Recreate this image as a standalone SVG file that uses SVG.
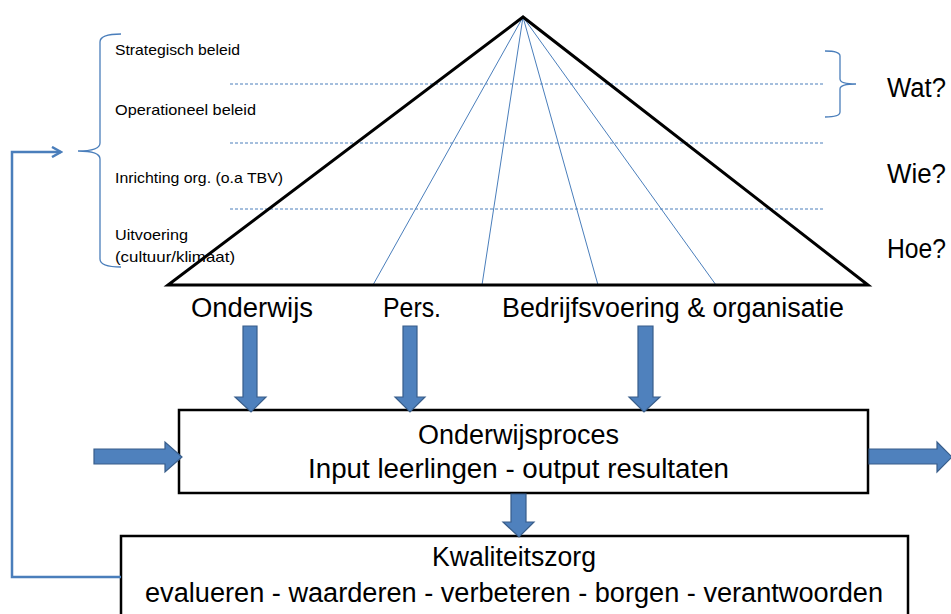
<svg xmlns="http://www.w3.org/2000/svg" width="951" height="614" viewBox="0 0 951 614">
<defs>
<style>
text{font-family:"Liberation Sans",Arial,sans-serif;fill:#000}
.sm{font-size:14.5px}
.lg{font-size:27px}
.blue{stroke:#4A7EBB;fill:none}
.dash{stroke:#4A7EBB;stroke-width:1;stroke-dasharray:3 2;fill:none}
.barrow{fill:#4F81BD;stroke:#385D8A;stroke-width:1.2}
.box{fill:#fff;stroke:#000;stroke-width:2.5}
</style>
<marker id="open" viewBox="0 0 12 12" refX="10" refY="6" markerWidth="12" markerHeight="12" markerUnits="userSpaceOnUse" orient="auto">
<path d="M1,1 L10,6 L1,11" fill="none" stroke="#4A7EBB" stroke-width="2.5"/>
</marker>
</defs>
<rect width="951" height="614" fill="#fff"/>

<g id="levels">
<line class="dash" x1="230" y1="84" x2="824" y2="84"/>
<line class="dash" x1="230" y1="143" x2="824" y2="143"/>
<line class="dash" x1="230" y1="209" x2="824" y2="209"/>
</g>

<g id="pyramid">
<g class="blue" stroke-width="1">
<line x1="523" y1="17" x2="373" y2="285"/>
<line x1="523" y1="17" x2="482" y2="285"/>
<line x1="523" y1="17" x2="598" y2="285"/>
<line x1="523" y1="17" x2="716" y2="285"/>
</g>
<path d="M523,17 L168,285 L868,285 Z" fill="none" stroke="#000" stroke-width="3" stroke-linejoin="miter"/>
</g>

<g id="left-brace">
<path class="blue" stroke-width="1.3" d="M121,34 C108,34 100,36 100,42 L100,143 C100,148 92,151 78,151 C92,151 100,154 100,159 L100,259 C100,265 108,267 121,267"/>
</g>
<g id="right-brace">
<path class="blue" stroke-width="1.3" d="M825,51 C834,51 840,52 840,56 L840,79 C840,82 846,84 856,84 C846,84 840,86 840,89 L840,112 C840,116 834,117 825,117"/>
</g>

<g id="level-labels">
<text class="sm" x="115" y="55" textLength="125" lengthAdjust="spacingAndGlyphs">Strategisch beleid</text>
<text class="sm" x="115" y="115" textLength="141" lengthAdjust="spacingAndGlyphs">Operationeel beleid</text>
<text class="sm" x="115" y="183" textLength="168" lengthAdjust="spacingAndGlyphs">Inrichting org. (o.a TBV)</text>
<text class="sm" x="115" y="240" textLength="73" lengthAdjust="spacingAndGlyphs">Uitvoering</text>
<text class="sm" x="115" y="262" textLength="120" lengthAdjust="spacingAndGlyphs">(cultuur/klimaat)</text>
</g>

<g id="questions">
<text class="lg" x="887" y="97" textLength="59" lengthAdjust="spacingAndGlyphs">Wat?</text>
<text class="lg" x="887" y="183" textLength="59" lengthAdjust="spacingAndGlyphs">Wie?</text>
<text class="lg" x="887" y="258" textLength="59" lengthAdjust="spacingAndGlyphs">Hoe?</text>
</g>

<g id="domains">
<text class="lg" x="191" y="317" textLength="122" lengthAdjust="spacingAndGlyphs">Onderwijs</text>
<text class="lg" x="383" y="317" textLength="58" lengthAdjust="spacingAndGlyphs">Pers.</text>
<text class="lg" x="502" y="317" textLength="342" lengthAdjust="spacingAndGlyphs">Bedrijfsvoering &amp; organisatie</text>
</g>

<g id="onderwijsproces">
<rect class="box" x="179" y="410" width="689" height="83"/>
<text class="lg" x="418" y="444" textLength="201" lengthAdjust="spacingAndGlyphs">Onderwijsproces</text>
<text class="lg" x="308" y="478" textLength="421" lengthAdjust="spacingAndGlyphs">Input leerlingen - output resultaten</text>
</g>

<g id="kwaliteitszorg">
<rect class="box" x="121" y="536" width="787" height="90"/>
<text class="lg" x="432" y="566" textLength="164" lengthAdjust="spacingAndGlyphs">Kwaliteitszorg</text>
<text class="lg" x="145" y="602" textLength="738" lengthAdjust="spacingAndGlyphs">evalueren - waarderen - verbeteren - borgen - verantwoorden</text>
</g>

<g id="connectors">
<path class="barrow" d="M243,326 H257 V397 H266 L251,412 L235,397 H243 Z"/>
<path class="barrow" d="M403,326 H417 V397 H425 L410,412 L395,397 H403 Z"/>
<path class="barrow" d="M638,326 H653 V397 H660 L644,412 L629,397 H638 Z"/>
<path class="barrow" d="M511,494 H526 V522 H534 L519,537 L503,522 H511 Z"/>
<path class="barrow" d="M94,449 H165 V442 L182,457 L165,472 V464 H94 Z"/>
<path class="barrow" d="M869,449 H937 V442 L952,457 L937,472 V464 H869 Z"/>
<polyline class="blue" stroke-width="2.5" points="121,577 12,577 12,152 61,152" marker-end="url(#open)"/>
</g>
</svg>
